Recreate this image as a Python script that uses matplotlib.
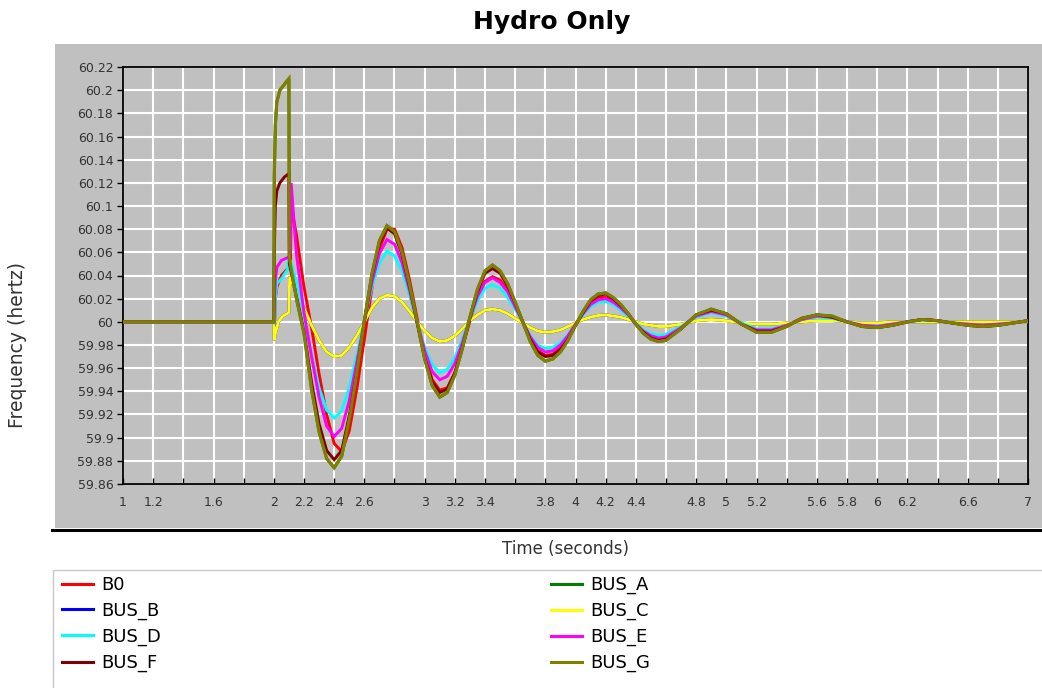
import numpy as np
import matplotlib
matplotlib.use('Agg')
import matplotlib.pyplot as plt
from matplotlib.patches import Rectangle
from matplotlib.lines import Line2D

# flat part before the fault (all buses at 60 Hz)
t_start = [1.0, 2.0]
f_start = [60.0, 60.0]

# switching transient, read separately per bus (2.0 s .. 2.15 s)
b0_tr_t = [2.005, 2.01, 2.02, 2.05, 2.1, 2.11, 2.115, 2.15]
b0_tr_f = [59.995, 60.02, 60.03, 60.04, 60.047, 60.05, 60.10, 60.075]
bus_c_tr_t = [2.003, 2.01, 2.03, 2.06, 2.1, 2.105, 2.15]
bus_c_tr_f = [59.984, 59.99, 60.0, 60.005, 60.008, 60.039, 60.025]
bus_d_tr_t = [2.005, 2.01, 2.02, 2.05, 2.09, 2.1, 2.15]
bus_d_tr_f = [59.998, 60.02, 60.033, 60.037, 60.045, 60.056, 60.035]
bus_e_tr_t = [2.005, 2.01, 2.02, 2.05, 2.1, 2.11, 2.115, 2.15]
bus_e_tr_f = [60.02, 60.035, 60.047, 60.053, 60.056, 60.06, 60.12, 60.058]
bus_f_tr_t = [2.003, 2.01, 2.02, 2.04, 2.07, 2.1, 2.103, 2.15]
bus_f_tr_f = [60.06, 60.1, 60.113, 60.12, 60.125, 60.128, 60.05, 60.022]
bus_g_tr_t = [2.003, 2.01, 2.02, 2.04, 2.07, 2.1, 2.103, 2.15]
bus_g_tr_f = [60.125, 60.17, 60.19, 60.2, 60.205, 60.21, 60.055, 60.02]

# oscillation, sampled every 0.05 s to 4.55 s, then every 0.1 s
t_osc = np.round(np.r_[np.arange(2.2, 4.56, 0.05), np.arange(4.6, 7.01, 0.1)], 2)

b0_osc = [60.030, 59.995, 59.955, 59.920, 59.895, 59.888, 59.906, 59.942, 59.985, 60.029,
          60.063, 60.080, 60.080, 60.064, 60.036, 60.003, 59.972, 59.950, 59.941, 59.943,
          59.956, 59.978, 60.001, 60.022, 60.035, 60.039, 60.036, 60.027, 60.014, 60.000,
          59.986, 59.975, 59.971, 59.972, 59.978, 59.986, 59.997, 60.007, 60.016, 60.021,
          60.021, 60.018, 60.013, 60.006, 59.998, 59.991, 59.987, 59.985, 59.986, 59.995,
          60.005, 60.009, 60.006, 59.998, 59.992, 59.992, 59.997, 60.003, 60.005, 60.004,
          60.000, 59.997, 59.996, 59.997, 60.000, 60.002, 60.001, 59.999, 59.998, 59.997,
          59.998, 59.999, 60.001]
bus_c_osc = [60.012, 59.997, 59.984, 59.974, 59.970, 59.971, 59.978, 59.988, 60.000, 60.012,
             60.020, 60.023, 60.022, 60.017, 60.009, 60.000, 59.992, 59.986, 59.983, 59.984,
             59.988, 59.994, 60.001, 60.006, 60.010, 60.011, 60.010, 60.007, 60.003, 59.999,
             59.995, 59.992, 59.991, 59.9915, 59.993, 59.996, 59.999, 60.002, 60.004, 60.0055,
             60.006, 60.005, 60.004, 60.002, 60.000, 59.998, 59.997, 59.996, 59.996, 59.998,
             60.001, 60.002, 60.001, 59.999, 59.998, 59.998, 59.999, 60.000, 60.001, 60.001,
             60.000, 59.999, 59.999, 60.000, 60.000, 60.000, 60.000, 60.000, 60.000, 60.000,
             60.000, 60.000, 60.000]
bus_d_osc = [60.005, 59.972, 59.943, 59.924, 59.917, 59.923, 59.943, 59.971, 60.001, 60.030,
             60.051, 60.061, 60.057, 60.044, 60.023, 60.000, 59.978, 59.963, 59.956, 59.959,
             59.969, 59.985, 60.003, 60.018, 60.029, 60.032, 60.029, 60.021, 60.011, 60.000,
             59.988, 59.980, 59.977, 59.978, 59.982, 59.989, 59.998, 60.006, 60.013, 60.017,
             60.0175, 60.015, 60.010, 60.005, 59.999, 59.993, 59.990, 59.988, 59.989, 59.996,
             60.004, 60.008, 60.005, 59.999, 59.994, 59.994, 59.997, 60.002, 60.004, 60.003,
             60.000, 59.997, 59.9965, 59.998, 60.000, 60.0015, 60.001, 59.999, 59.998, 59.997,
             59.998, 59.999, 60.001]
bus_e_osc = [60.008, 59.970, 59.935, 59.910, 59.901, 59.908, 59.932, 59.965, 60.000, 60.034,
             60.059, 60.071, 60.067, 60.051, 60.027, 60.000, 59.975, 59.957, 59.950, 59.953,
             59.964, 59.982, 60.003, 60.022, 60.034, 60.038, 60.034, 60.026, 60.013, 60.000,
             59.987, 59.978, 59.974, 59.975, 59.980, 59.988, 59.998, 60.007, 60.015, 60.019,
             60.020, 60.017, 60.012, 60.006, 59.998, 59.992, 59.988, 59.986, 59.987, 59.995,
             60.005, 60.009, 60.006, 59.998, 59.993, 59.993, 59.997, 60.002, 60.005, 60.004,
             60.000, 59.997, 59.996, 59.998, 60.000, 60.002, 60.001, 59.999, 59.998, 59.997,
             59.998, 59.999, 60.001]
bus_f_osc = [59.992, 59.948, 59.912, 59.889, 59.881, 59.889, 59.919, 59.957, 60.000, 60.039,
             60.068, 60.081, 60.076, 60.058, 60.030, 59.999, 59.969, 59.948, 59.939, 59.942,
             59.956, 59.978, 60.003, 60.026, 60.042, 60.046, 60.042, 60.031, 60.016, 60.000,
             59.985, 59.974, 59.970, 59.971, 59.976, 59.985, 59.997, 60.008, 60.018, 60.023,
             60.024, 60.020, 60.014, 60.007, 59.998, 59.991, 59.986, 59.984, 59.985, 59.994,
             60.006, 60.010, 60.007, 59.998, 59.992, 59.992, 59.996, 60.003, 60.006, 60.004,
             60.000, 59.996, 59.995, 59.997, 60.000, 60.002, 60.001, 59.999, 59.997, 59.996,
             59.997, 59.999, 60.001]
bus_g_osc = [59.990, 59.942, 59.905, 59.882, 59.874, 59.884, 59.916, 59.956, 60.001, 60.041,
             60.070, 60.083, 60.078, 60.060, 60.032, 60.000, 59.968, 59.945, 59.935, 59.939,
             59.954, 59.977, 60.004, 60.028, 60.044, 60.049, 60.044, 60.033, 60.017, 60.000,
             59.983, 59.971, 59.966, 59.968, 59.974, 59.984, 59.997, 60.009, 60.019, 60.024,
             60.025, 60.021, 60.015, 60.007, 59.998, 59.990, 59.985, 59.983, 59.984, 59.994,
             60.006, 60.011, 60.007, 59.998, 59.991, 59.991, 59.996, 60.003, 60.006, 60.005,
             60.000, 59.996, 59.995, 59.997, 60.000, 60.002, 60.001, 59.999, 59.997, 59.996,
             59.997, 59.999, 60.001]

# BUS_A sits under BUS_G and BUS_B under BUS_C in the picture
bus_a_tr_t, bus_a_tr_f, bus_a_osc = bus_g_tr_t, bus_g_tr_f, bus_g_osc
bus_b_tr_t, bus_b_tr_f, bus_b_osc = bus_c_tr_t, bus_c_tr_f, bus_c_osc

names = ['B0', 'BUS_A', 'BUS_B', 'BUS_C', 'BUS_D', 'BUS_E', 'BUS_F', 'BUS_G']
colors = ['#ff0000', '#008000', '#0000ff', '#ffff00', '#00ffff', '#ff00ff', '#800000', '#808000']
series = [(b0_tr_t, b0_tr_f, b0_osc), (bus_a_tr_t, bus_a_tr_f, bus_a_osc),
          (bus_b_tr_t, bus_b_tr_f, bus_b_osc), (bus_c_tr_t, bus_c_tr_f, bus_c_osc),
          (bus_d_tr_t, bus_d_tr_f, bus_d_osc), (bus_e_tr_t, bus_e_tr_f, bus_e_osc),
          (bus_f_tr_t, bus_f_tr_f, bus_f_osc), (bus_g_tr_t, bus_g_tr_f, bus_g_osc)]

xtick_vals = np.round(np.arange(1.0, 7.01, 0.2), 1)
xtick_shown = [1, 1.2, 1.6, 2, 2.2, 2.4, 2.6, 3, 3.2, 3.4, 3.8, 4, 4.2, 4.4, 4.8, 5, 5.2,
               5.6, 5.8, 6, 6.2, 6.6, 7]
ytick_vals = np.round(np.arange(59.86, 60.221, 0.02), 2)

W, H = 1042, 688
fig = plt.figure(figsize=(W / 100, H / 100), dpi=100)

# grey chart panel and its dark bottom edge
fig.patches.append(Rectangle((55 / W, 1 - 528 / H), 1 - 55 / W, 484 / H,
                             transform=fig.transFigure, facecolor='#c0c0c0',
                             edgecolor='none', zorder=-2))
fig.lines.append(Line2D([52 / W, 1], [1 - 530 / H] * 2, transform=fig.transFigure,
                        color='black', lw=2.2, zorder=-1))
# legend box
fig.patches.append(Rectangle((52.5 / W, -0.01), 1, (688 - 570) / H + 0.01,
                             transform=fig.transFigure, facecolor='white',
                             edgecolor='#c8c8c8', lw=1, zorder=-2))

ax = fig.add_axes([123 / W, 1 - 484 / H, 905 / W, 417 / H])
ax.set_zorder(1)
ax.set_facecolor('#c0c0c0')

lines = {}
for name, col, (tt, ff, fo) in zip(names, colors, series):
    t = list(t_start) + list(tt) + list(t_osc)
    f = list(f_start) + list(ff) + list(fo)
    lw = 2.3 if name == 'BUS_G' else 2.1
    ln, = ax.plot(t, f, color=col, lw=lw, solid_joinstyle='miter', zorder=3)
    lines[name] = ln

ax.set_xlim(1, 7)
ax.set_ylim(59.86, 60.22)
ax.set_xticks(xtick_vals)
ax.set_xticklabels([('%g' % v) if any(abs(v - s) < 1e-6 for s in xtick_shown) else ''
                    for v in xtick_vals])
ax.set_yticks(ytick_vals)
ax.set_yticklabels(['%g' % v for v in ytick_vals])
ax.grid(True, color='white', lw=1.5)
ax.set_axisbelow(True)
ax.tick_params(axis='x', direction='in', length=4, width=1, pad=9, labelsize=9,
               labelcolor='#333333')
ax.tick_params(axis='y', direction='out', length=4, width=1, pad=3, labelsize=9,
               labelcolor='#333333')
for s in ax.spines.values():
    s.set_color('black')
    s.set_linewidth(1.3)

fig.text(552 / W, 1 - 22 / H, 'Hydro Only', ha='center', va='center', fontsize=18,
         fontweight='bold')
fig.text(18 / W, 1 - 345 / H, 'Frequency (hertz)', ha='center', va='center',
         rotation=90, fontsize=13.5, color='#333333')
fig.text(565 / W, 1 - 549 / H, 'Time (seconds)', ha='center', va='center', fontsize=12,
         color='#333333')

order = ['B0', 'BUS_B', 'BUS_D', 'BUS_F', 'BUS_A', 'BUS_C', 'BUS_E', 'BUS_G']
handles = [Line2D([], [], color=lines[n].get_color(), lw=2.2) for n in order]
fig.legend(handles, order, ncol=2, loc='upper left', bbox_to_anchor=(62 / W, 1 - 576 / H),
           frameon=False, fontsize=13, handlelength=1.72, handletextpad=0.44,
           labelspacing=0.43, columnspacing=21.6, borderpad=0, borderaxespad=0)

fig.savefig('out.png', dpi=100)
